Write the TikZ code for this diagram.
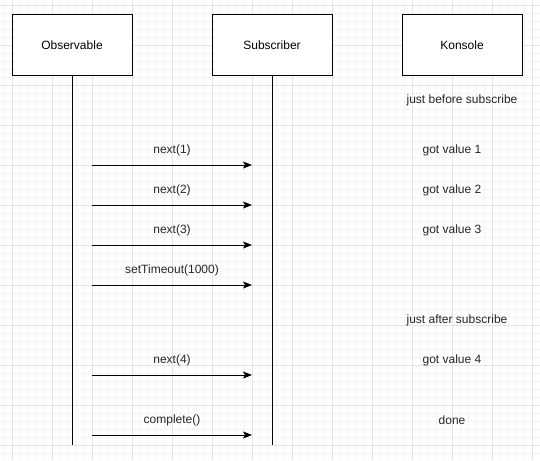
\documentclass[tikz,border=0pt]{standalone}
\usepackage{fontspec}
\setmainfont{Liberation Sans}
\usetikzlibrary{arrows.meta}
\definecolor{gridminor}{HTML}{F4F4F4}
\definecolor{gridmajor}{HTML}{E4E4E4}
\tikzset{
  actor/.style={draw=black, fill=white, line width=1pt, minimum width=120pt, minimum height=60pt, inner sep=0pt, font=\fontsize{12pt}{14pt}\selectfont},
  lifeline/.style={draw=black, line width=1pt},
  msg/.style={draw=black, line width=1pt, -{Stealth[length=9pt,width=7pt,inset=2pt]}},
  lbl/.style={inner sep=0pt, font=\fontsize{12pt}{14pt}\selectfont, text=black!85},
}
\begin{document}
\begin{tikzpicture}[x=1pt,y=-1pt]
\useasboundingbox (0,0) rectangle (540,460);
\fill[white] (0,0) rectangle (540,460);
% grid
\foreach \gx in {4,12,...,540} \draw[gridminor, line width=0.6pt] (\gx,0) -- (\gx,460);
\foreach \gy in {5,13,...,460} \draw[gridminor, line width=0.6pt] (0,\gy) -- (540,\gy);
\foreach \gx in {12,52,...,540} \draw[gridmajor, line width=0.8pt] (\gx,0) -- (\gx,460);
\foreach \gy in {5,45,...,460} \draw[gridmajor, line width=0.8pt] (0,\gy) -- (540,\gy);
% actors
\node[actor] (obs) at (72,45) {Observable};
\node[actor] (sub) at (272,45) {Subscriber};
\node[actor] (kon) at (462,45) {Konsole};
\coordinate (obsend) at (72,445);
\coordinate (subend) at (272,445);
\draw[lifeline] (obs.south) -- (obsend);
\draw[lifeline] (sub.south) -- (subend);
% messages
\foreach \n/\y/\t in {a/165/next(1), b/205/next(2), c/245/next(3), d/285/setTimeout(1000), e/375/next(4), f/435/complete()} {
  \coordinate (s\n) at (92,\y);
  \coordinate (t\n) at (252,\y);
  \draw[msg] (s\n) -- (t\n);
  \node[lbl] (l\n) at (172,\y-15) {\t};
}
% console output
\node[lbl] (k0) at (462,100) {just before subscribe};
\node[lbl] (k1) at (452,150) {got value 1};
\node[lbl] (k2) at (452,190) {got value 2};
\node[lbl] (k3) at (452,230) {got value 3};
\node[lbl] (k4) at (457,320) {just after subscribe};
\node[lbl] (k5) at (452,360) {got value 4};
\node[lbl] (k6) at (452,420) {done};
\end{tikzpicture}
\end{document}
